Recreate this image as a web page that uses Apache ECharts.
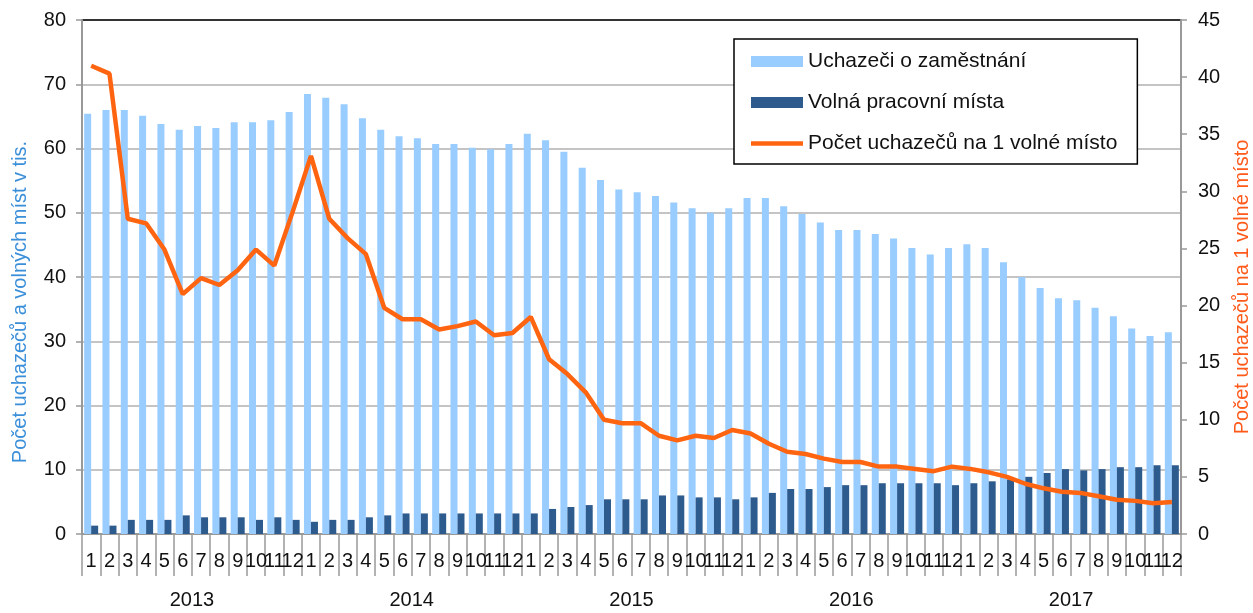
<!DOCTYPE html>
<html>
<head>
<meta charset="utf-8">
<script src="https://cdn.jsdelivr.net/npm/echarts@6/dist/echarts.min.js"></script>
<style>html,body{margin:0;padding:0;background:#fff}#c{width:1253px;height:613px}</style>
</head>
<body>
<div id="c"></div>
<script>
var years = ['2013', '2014', '2015', '2016', '2017'];
var monthLabels = ['1','2','3','4','5','6','7','8','9','10','11','12'];
var categories = years.reduce(function (acc, y) {
  return acc.concat(monthLabels.map(function (m) { return y + '/' + m; }));
}, []);

var uchazeci = [
  65.4, 66.0, 66.0, 65.1, 63.8, 62.9, 63.5, 63.2, 64.1, 64.1, 64.4, 65.7,
  68.5, 67.9, 66.9, 64.7, 62.9, 61.9, 61.6, 60.7, 60.7, 60.1, 59.9, 60.7,
  62.3, 61.3, 59.5, 57.0, 55.1, 53.6, 53.2, 52.6, 51.6, 50.7, 50.0, 50.7,
  52.3, 52.3, 51.0, 49.8, 48.5, 47.3, 47.3, 46.7, 46.0, 44.5, 43.5, 44.5,
  45.1, 44.5, 42.3, 40.0, 38.3, 36.7, 36.4, 35.2, 33.9, 32.0, 30.8, 31.4
];
var volnaMista = [
  1.3, 1.3, 2.2, 2.2, 2.2, 2.9, 2.6, 2.6, 2.6, 2.2, 2.6, 2.2,
  1.9, 2.2, 2.2, 2.6, 2.9, 3.2, 3.2, 3.2, 3.2, 3.2, 3.2, 3.2,
  3.2, 3.9, 4.2, 4.5, 5.4, 5.4, 5.4, 6.0, 6.0, 5.7, 5.7, 5.4,
  5.7, 6.4, 7.0, 7.0, 7.3, 7.6, 7.6, 7.9, 7.9, 7.9, 7.9, 7.6,
  7.9, 8.2, 8.5, 8.9, 9.5, 10.1, 9.9, 10.1, 10.4, 10.4, 10.7, 10.7
];
var pocetNaMisto = [
  41.0, 40.3, 27.6, 27.2, 24.9, 21.0, 22.4, 21.8, 23.1, 24.9, 23.5, 28.2,
  33.1, 27.6, 25.9, 24.5, 19.8, 18.8, 18.8, 17.9, 18.2, 18.6, 17.4, 17.6,
  19.0, 15.3, 14.0, 12.4, 10.0, 9.7, 9.7, 8.6, 8.2, 8.6, 8.4, 9.1,
  8.8, 7.9, 7.2, 7.0, 6.6, 6.3, 6.3, 5.9, 5.9, 5.7, 5.5, 5.9,
  5.7, 5.4, 5.0, 4.4, 4.0, 3.7, 3.6, 3.3, 3.0, 2.9, 2.7, 2.8
];
var leftTicksMax = 80, leftInterval = 10;
var rightTicksMax = 45, rightInterval = 5;

var FONT = '"Liberation Sans", Arial, sans-serif';
var splitColors = [];
for (var i = 0; i < leftTicksMax / leftInterval; i++) splitColors.push('#c4c4c4');
splitColors.push('#333333');

var chart = echarts.init(document.getElementById('c'), null, {renderer: 'canvas'});
chart.setOption({
  animation: false,
  textStyle: {fontFamily: FONT},
  grid: {left: 82, right: 72, top: 20, bottom: 79, show: false},
  legend: {
    orient: 'vertical', left: 734, top: 39,
    padding: [12, 20, 10, 17],
    itemWidth: 52, itemHeight: 11, itemGap: 20,
    borderColor: '#000', borderWidth: 1.5,
    backgroundColor: '#fff',
    textStyle: {fontSize: 21, color: '#111', fontFamily: FONT},
    data: [
      {name: 'Uchazeči o zaměstnání', icon: 'rect'},
      {name: 'Volná pracovní místa', icon: 'rect'},
      {name: 'Počet uchazečů na 1 volné místo', icon: 'path://M0 0H52V4.5H0Z'}
    ]
  },
  xAxis: [
    {
      type: 'category', data: categories, boundaryGap: true,
      axisLine: {lineStyle: {color: '#999', width: 2}},
      axisTick: {show: true, interval: 0, length: 42, lineStyle: {color: '#999', width: 1.5}},
      axisLabel: {interval: 0, fontSize: 20, color: '#111', margin: 17,
        formatter: function (v) { return v.split('/')[1]; }},
      splitLine: {show: false}
    },
    {
      type: 'category', data: years, position: 'bottom', offset: 42, boundaryGap: true,
      axisLine: {show: false},
      axisTick: {show: true, interval: 0, length: 37, lineStyle: {color: '#999', width: 1.5}},
      axisLabel: {interval: 0, fontSize: 20, color: '#111', margin: 14},
      splitLine: {show: false}
    }
  ],
  yAxis: [
    {
      type: 'value', min: 0, max: leftTicksMax, interval: leftInterval,
      axisLine: {show: true, lineStyle: {color: '#999', width: 2}},
      axisTick: {show: true, length: 6, lineStyle: {color: '#999', width: 1.5}},
      axisLabel: {fontSize: 20, color: '#111', margin: 16},
      splitLine: {show: true, lineStyle: {color: splitColors, width: 2}}
    },
    {
      type: 'value', min: 0, max: rightTicksMax, interval: rightInterval, position: 'right',
      axisLine: {show: true, lineStyle: {color: '#999', width: 2}},
      axisTick: {show: true, length: 6, lineStyle: {color: '#999', width: 1.5}},
      axisLabel: {fontSize: 20, color: '#111', margin: 17},
      splitLine: {show: false}
    }
  ],
  series: [
    {name: 'Uchazeči o zaměstnání', type: 'bar', data: uchazeci, barWidth: 7, barGap: '0%',
      itemStyle: {color: '#99ccff'}},
    {name: 'Volná pracovní místa', type: 'bar', data: volnaMista, barWidth: 7, barGap: '0%',
      itemStyle: {color: '#2d5b8e'}},
    {name: 'Počet uchazečů na 1 volné místo', type: 'line', yAxisIndex: 1, data: pocetNaMisto,
      symbol: 'none', lineStyle: {color: '#ff6411', width: 4.5}, itemStyle: {color: '#ff6411'}, z: 5}
  ],
  graphic: [
    {type: 'text', x: 20, y: 302, rotation: Math.PI / 2,
      style: {text: 'Počet uchazečů a volných míst v tis.', fontSize: 20, fontFamily: FONT,
        fill: '#3b8fd9', align: 'center', verticalAlign: 'middle'}},
    {type: 'text', x: 1242, y: 287, rotation: Math.PI / 2,
      style: {text: 'Počet uchazečů na 1 volné místo', fontSize: 20, fontFamily: FONT,
        fill: '#ff5a1a', align: 'center', verticalAlign: 'middle'}}
  ]
});
</script>
</body>
</html>
